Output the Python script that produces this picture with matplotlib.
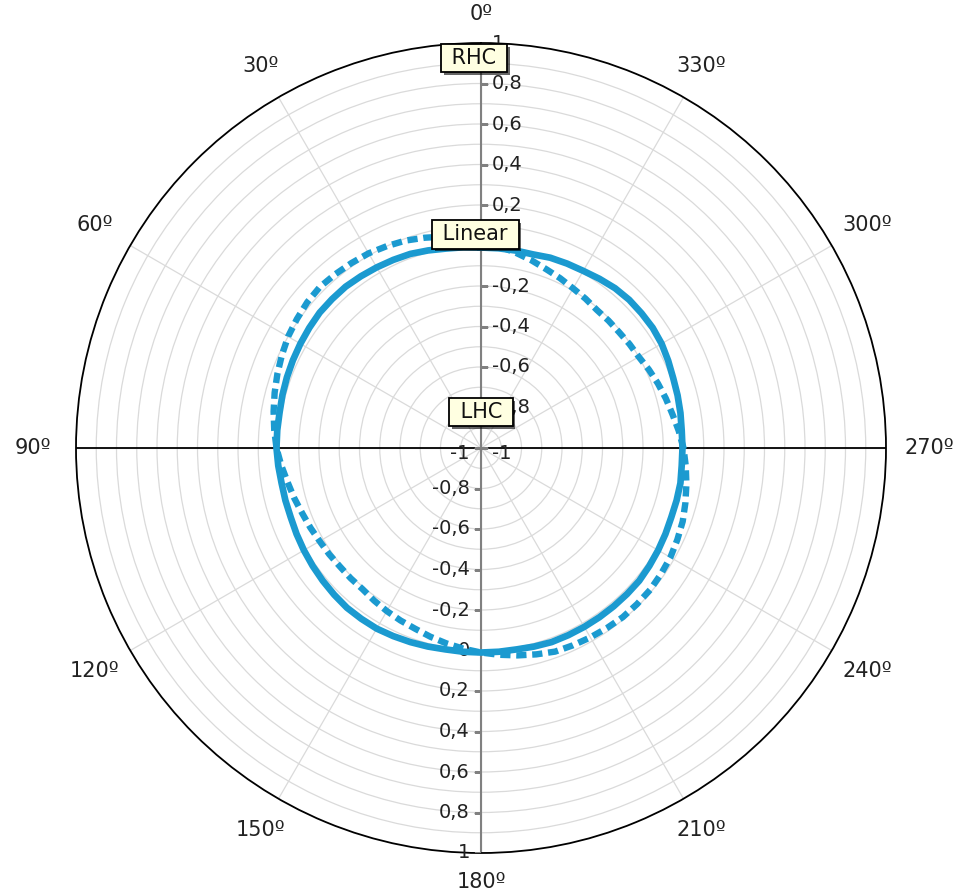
import numpy as np
import matplotlib.pyplot as plt
import matplotlib.patheffects as pe

# polarisation pattern, sampled every 5 degrees (0..360, closed)
angles_deg = np.arange(0, 361, 5)
solid_vals = [-0.01, -0.005, 0.00, 0.01, 0.02, 0.025, 0.03, 0.035, 0.04, 0.04,
              0.04, 0.035, 0.03, 0.025, 0.02, 0.015, 0.01, 0.01, 0.01, 0.005,
              0.00, 0.00, 0.00, 0.005, 0.01, 0.015, 0.02, 0.025, 0.03, 0.03,
              0.03, 0.025, 0.02, 0.015, 0.01, 0.01, 0.01, 0.01, 0.01, 0.015,
              0.02, 0.02, 0.02, 0.02, 0.02, 0.02, 0.02, 0.015, 0.01, 0.005,
              0.00, 0.00, 0.00, -0.005, -0.005, -0.005, 0.00, 0.005, 0.01, 0.02,
              0.03, 0.035, 0.035, 0.035, 0.03, 0.02, 0.01, 0.005, 0.00, -0.01,
              -0.01, -0.01, -0.01]
dashed_vals = [0.02, 0.04, 0.06, 0.075, 0.09, 0.10, 0.11, 0.115, 0.12, 0.125,
               0.12, 0.11, 0.10, 0.085, 0.07, 0.055, 0.04, 0.025, 0.01, -0.01,
               -0.03, -0.045, -0.06, -0.07, -0.08, -0.085, -0.09, -0.09, -0.09, -0.08,
               -0.07, -0.06, -0.05, -0.035, -0.02, -0.005, 0.01, 0.025, 0.04, 0.055,
               0.07, 0.075, 0.08, 0.085, 0.09, 0.09, 0.09, 0.085, 0.08, 0.07,
               0.06, 0.045, 0.03, 0.015, 0.00, -0.02, -0.04, -0.055, -0.07, -0.085,
               -0.10, -0.105, -0.11, -0.11, -0.11, -0.10, -0.09, -0.075, -0.06, -0.04,
               -0.02, 0.00, 0.02]

theta_labels = list(range(0, 360, 30))
radial_ticks = [1, 0.8, 0.6, 0.4, 0.2, 0, -0.2, -0.4, -0.6, -0.8, -1]
marker_labels = ["RHC", "Linear", "LHC"]
marker_levels = [1, 0, -1]

LINE = "#1b9ad0"


def fmt(v):
    s = f"{round(v, 1):g}"
    if s == "-0":
        s = "0"
    return s.replace(".", ",")


fig = plt.figure(figsize=(9.61, 8.92), dpi=100)
ax = fig.add_axes([76 / 961, 39 / 892, 810 / 961, 810 / 892], projection="polar")
ax.set_theta_zero_location("N")
ax.set_theta_direction(1)
ax.set_ylim(-1, 1)

ax.set_yticks(np.round(np.arange(-0.9, 0.95, 0.1), 1))
ax.set_yticklabels([])
ax.set_xticks(np.radians(theta_labels))
ax.set_xticklabels([])
ax.grid(color="#dadada", lw=0.9)
ax.spines["polar"].set_color("black")
ax.spines["polar"].set_linewidth(1.3)

# main axis lines
ax.plot([np.pi / 2] * 2, [-1, 1], color="black", lw=1.3, zorder=2)
ax.plot([3 * np.pi / 2] * 2, [-1, 1], color="black", lw=1.3, zorder=2)
ax.plot([0, 0], [-1, 1], color="#808080", lw=1.5, zorder=2)
ax.plot([np.pi, np.pi], [-1, 1], color="#808080", lw=1.5, zorder=2)

# radial scale along the vertical axis
ax.plot(np.zeros(len(radial_ticks)), radial_ticks, ls="none", marker=1,
        ms=5, mew=1, color="#808080", zorder=3)
ax.plot(np.full(len(radial_ticks), np.pi), radial_ticks, ls="none", marker=0,
        ms=5, mew=1, color="#808080", zorder=3)
for v in radial_ticks:
    dy = -4 if v == -1 else 0  # keep the centre "-1" clear of the horizontal axis
    ax.annotate(fmt(v), xy=(0, v), xytext=(8, dy), textcoords="offset points",
                ha="left", va="center", fontsize=14, color="#222222",
                annotation_clip=False, zorder=4)
    ax.annotate(fmt(v), xy=(np.pi, v), xytext=(-8, dy), textcoords="offset points",
                ha="right", va="center", fontsize=14, color="#222222",
                annotation_clip=False, zorder=4)

# angle labels
for a in theta_labels:
    t = np.radians(a)
    pad = 21 + 10 * abs(np.sin(t))
    ax.annotate(f"{a}º", xy=(t, 1), xytext=(-pad * np.sin(t), pad * np.cos(t)),
                textcoords="offset points", ha="center", va="center",
                fontsize=15, color="#222222", annotation_clip=False)

th = np.radians(angles_deg)
ax.plot(th, solid_vals, color=LINE, lw=4.8, zorder=5)
ax.plot(th, dashed_vals, color=LINE, lw=4.6, dashes=(1.6, 0.9),
        dash_capstyle="butt", zorder=5)

# reference markers
offsets = [(-5, -11), (-4, 8), (0, 26)]
for lab, lev, off in zip(marker_labels, marker_levels, offsets):
    txt = ax.annotate(f" {lab} ", xy=(0, lev), xytext=off, textcoords="offset points",
                      ha="center", va="center", fontsize=15, color="#111111",
                      annotation_clip=False, zorder=10,
                      bbox=dict(boxstyle="square,pad=0.2", fc="#ffffe1",
                                ec="black", lw=1.3))
    txt.get_bbox_patch().set_path_effects(
        [pe.SimplePatchShadow(offset=(2, -2), shadow_rgbFace="black", alpha=0.6),
         pe.Normal()])

fig.savefig("out.png", dpi=100)
